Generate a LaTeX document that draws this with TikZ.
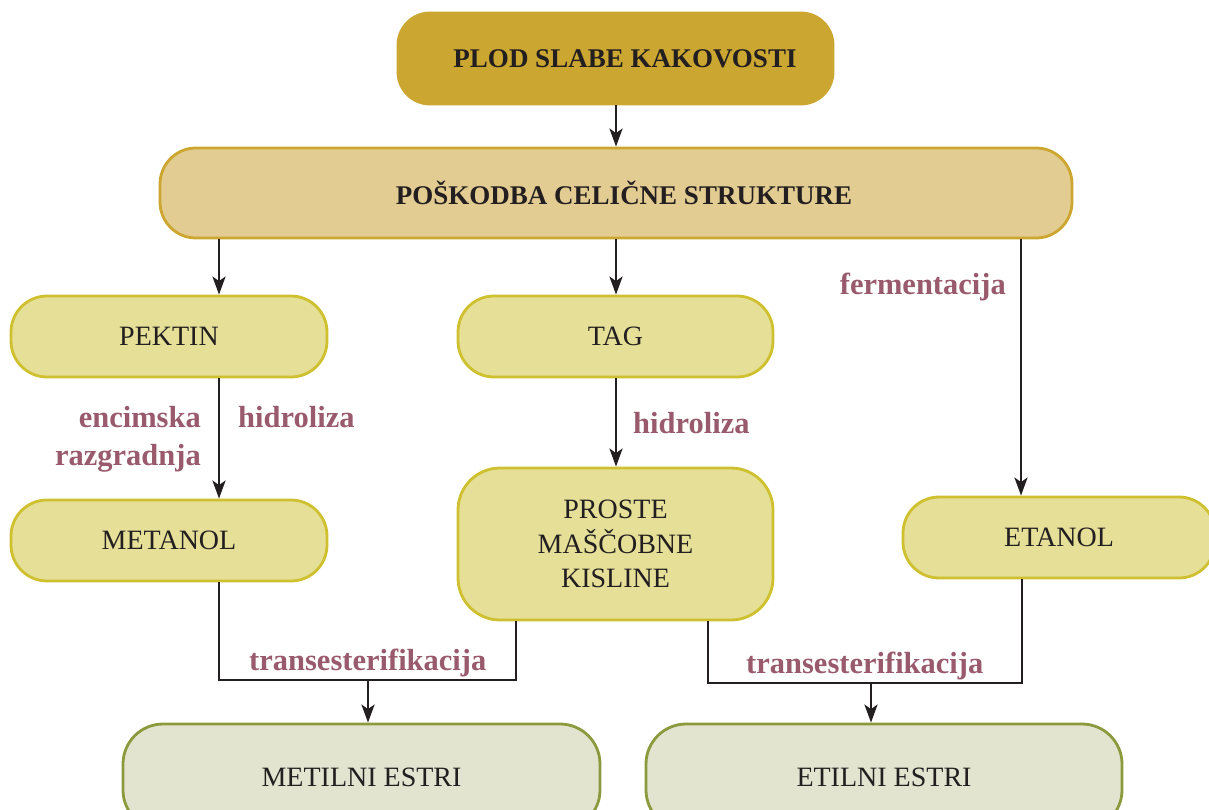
\documentclass[tikz,border=0pt]{standalone}
\usepackage{fontspec}
\setmainfont{Liberation Serif}
\usetikzlibrary{arrows.meta}
\definecolor{goldfill}{HTML}{CBA630}
\definecolor{sandfill}{HTML}{E2CC92}
\definecolor{sanddraw}{HTML}{CDA630}
\definecolor{yelfill}{HTML}{E5DF98}
\definecolor{yeldraw}{HTML}{CEC02F}
\definecolor{estfill}{HTML}{E3E4CF}
\definecolor{estdraw}{HTML}{8A9A3D}
\definecolor{labcol}{HTML}{985A6C}
\definecolor{ink}{HTML}{231F20}
\tikzset{
  box/.style={rectangle, inner sep=0pt, text=ink, line width=2.8pt,
    font=\fontsize{28}{34.5}\selectfont, align=center},
  topbox/.style={box, fill=goldfill, draw=goldfill, rounded corners=32pt,
    font=\fontsize{27}{32}\selectfont\bfseries},
  headbox/.style={box, fill=sandfill, draw=sanddraw, rounded corners=36pt,
    font=\fontsize{27}{32}\selectfont\bfseries},
  ybox/.style={box, fill=yelfill, draw=yeldraw, rounded corners=36pt},
  ebox/.style={box, fill=estfill, draw=estdraw, rounded corners=40pt},
  lab/.style={inner sep=0pt, text=labcol, font=\fontsize{30.5}{36}\selectfont\bfseries},
  conn/.style={draw=ink, line width=2.8pt},
  arr/.style={conn, -{Stealth[length=18pt, width=13pt, inset=4.5pt]}},
}
\begin{document}
\begin{tikzpicture}[x=1pt, y=-1pt]
\useasboundingbox (0,0) rectangle (1209,810);
\clip (0,0) rectangle (1209,810);

% boxes
\node[topbox, minimum width=435pt, minimum height=91pt] (plod) at (615.5,58.5)
  {\hspace*{19pt}PLOD SLABE KAKOVOSTI};
\node[headbox, minimum width=912pt, minimum height=90pt] (poskodba) at (616,193)
  {\hspace*{16pt}POŠKODBA CELIČNE STRUKTURE};
\node[ybox, minimum width=316pt, minimum height=81pt] (pektin) at (169,336.5) {PEKTIN};
\node[ybox, minimum width=315pt, minimum height=81pt] (tag) at (615.5,336.5) {TAG};
\node[ybox, minimum width=316pt, minimum height=81pt] (metanol) at (169,540.5) {METANOL};
\node[ybox, rounded corners=42pt, minimum width=315pt, minimum height=152pt] (proste) at (615.5,544)
  {PROSTE\\MAŠČOBNE\\KISLINE};
\node[ybox, minimum width=312pt, minimum height=81pt] (etanol) at (1059,537.5) {ETANOL};
\node[ebox, minimum width=477pt, minimum height=106pt] (metilni) at (361.5,777) {METILNI ESTRI};
\node[ebox, minimum width=476pt, minimum height=106pt] (etilni) at (884,777) {ETILNI ESTRI};

% connector columns and junctions
\coordinate (xL) at (219,0);
\coordinate (xM) at (616,0);
\coordinate (xR) at (1021,0);
\coordinate (k1) at (516,680);
\coordinate (j1) at (368,680);
\coordinate (k2) at (708,683);
\coordinate (k3) at (1022,683);
\coordinate (j2) at (871,683);

% arrows
\draw[arr] (plod.south -| xM) -- (poskodba.north -| xM);
\draw[arr] (poskodba.south -| xL) -- (pektin.north -| xL);
\draw[arr] (poskodba.south -| xM) -- (tag.north -| xM);
\draw[arr] (poskodba.south -| xR) -- (etanol.north -| xR);
\draw[arr] (pektin.south -| xL) -- (metanol.north -| xL);
\draw[arr] (tag.south -| xM) -- (proste.north -| xM);

\draw[conn] (metanol.south -| xL) |- (k1) -- (proste.south -| k1);
\draw[arr] (j1) -- (metilni.north -| j1);
\draw[conn] (proste.south -| k2) -- (k2) -- (k3) -- (etanol.south -| k3);
\draw[arr] (j2) -- (etilni.north -| j2);

% labels
\node[lab, anchor=base east] (ferm) at (1006,294) {fermentacija};
\node[lab, anchor=base east] (encim) at (201,427) {encimska};
\node[lab, anchor=base east] (razgr) at (201,465) {razgradnja};
\node[lab, anchor=base west] (hidro1) at (238,427) {hidroliza};
\node[lab, anchor=base west] (hidro2) at (633,433) {hidroliza};
\node[lab, anchor=base west] (trans1) at (249,670) {transesterifikacija};
\node[lab, anchor=base west] (trans2) at (746,673) {transesterifikacija};
\end{tikzpicture}
\end{document}
